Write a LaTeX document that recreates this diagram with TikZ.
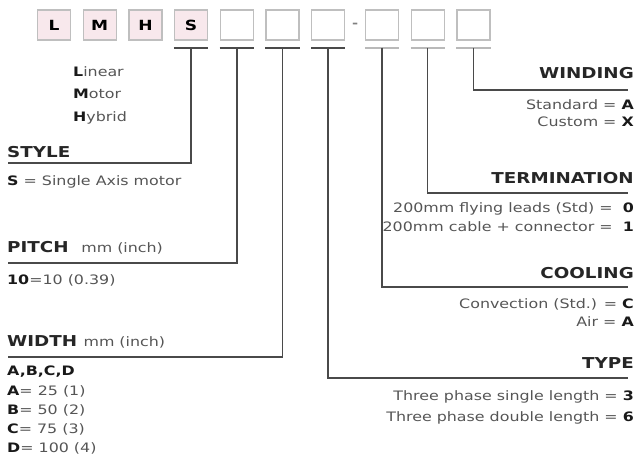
\documentclass[tikz,border=0pt]{standalone}
\usepackage{fontspec}
\setmainfont[FakeStretch=1.22]{DejaVu Sans}
\usetikzlibrary{positioning}
\definecolor{boxpink}{HTML}{F8E8EC}
\definecolor{lnk}{HTML}{4A4A4A}
\definecolor{txtgray}{HTML}{555555}
\newcommand{\B}[1]{{\color{black!90}\bfseries #1}}

\begin{document}
\begin{tikzpicture}[x=1pt, y=-1pt,
	box/.style={draw=gray!50, line width=1.3pt, minimum width=33pt, minimum height=30pt, inner sep=0pt, font=\bfseries\fontsize{14}{14}\selectfont},
	lbox/.style={box, fill=boxpink},
	ul/.style={line width=2.2pt, lnk}, ulg/.style={line width=2.2pt, gray!55},
	conn/.style={line width=1.6pt, lnk},
	hd/.style={inner sep=0pt, font=\bfseries\fontsize{15}{15}\selectfont, text=black!85},
	txt/.style={inner sep=0pt, text=txtgray}]
	\useasboundingbox (0,0) rectangle (635,457);
	% code boxes
	\node[lbox] (L) at (54,25) {L}; \node[lbox] (M) [right=11.4pt of L] {M};
	\node[lbox] (H) [right=11.4pt of M] {H}; \node[lbox] (S) [right=11.4pt of H] {S};
	\node[box] (b5) [right=11.4pt of S] {}; \node[box] (b6) [right=11.4pt of b5] {};
	\node[box] (b7) [right=11.4pt of b6] {};
	\node[inner sep=0pt, text=gray, font=\bfseries\fontsize{12}{12}\selectfont] (dash) [right=6.5pt of b7] {-};
	\node[box] (b8) [right=6.5pt of dash] {}; \node[box] (b9) [right=11.4pt of b8] {};
	\node[box] (b10) [right=11.4pt of b9] {};
	\foreach \b in {S, b5, b6, b7}
		\draw[ul] ([yshift=-7pt]\b.south west) -- ([yshift=-7pt]\b.south east);
	\foreach \b in {b8, b9, b10}
		\draw[ulg] ([yshift=-7pt]\b.south west) -- ([yshift=-7pt]\b.south east);
	\node[txt, anchor=west, align=left, font=\fontsize{13}{22.5}\selectfont] (lmh) at (73,95) {\B{L}inear\\\B{M}otor\\\B{H}ybrid};
	% left side
	\node[hd, anchor=west] (style) at (7,152) {STYLE};
	\node[txt, anchor=west, font=\fontsize{13}{13}\selectfont] (styleS) at (7,182) {\B{S} = Single Axis motor};
	\node[hd, anchor=west] (pitch) at (7,248) {PITCH\ \ {\mdseries\fontsize{13}{13}\selectfont\color{txtgray}mm (inch)}};
	\node[txt, anchor=west, font=\fontsize{13}{13}\selectfont] (pitch10) at (7,280) {\B{10}=10 (0.39)};
	\node[hd, anchor=west] (width) at (7,342) {WIDTH {\mdseries\fontsize{13}{13}\selectfont\color{txtgray}mm (inch)}};
	\node[txt, anchor=west, align=left, font=\fontsize{13}{19.25}\selectfont] (widthL) at (7,410.5)
		{\B{A,B,C,D}\\\B{A}= 25 (1)\\\B{B}= 50 (2)\\\B{C}= 75 (3)\\\B{D}= 100 (4)};
	% right side
	\node[hd, anchor=east] (wind) at (634,73) {WINDING};
	\node[txt, anchor=east, align=right, font=\fontsize{13}{17}\selectfont] (windL) at (634,113.5) {Standard = \B{A}\\Custom = \B{X}};
	\node[hd, anchor=east] (term) at (634,178) {TERMINATION};
	\node[txt, anchor=east, align=right, font=\fontsize{13}{19}\selectfont] (termL) at (634,217.5)
		{200mm flying leads (Std) = \ \B{0}\\200mm cable + connector = \ \B{1}};
	\node[hd, anchor=east] (cool) at (634,273) {COOLING};
	\node[txt, anchor=east, align=right, font=\fontsize{13}{18}\selectfont] (coolL) at (634,312.5) {Convection (Std.) = \B{C}\\Air = \B{A}};
	\node[hd, anchor=east] (type) at (634,363) {TYPE};
	\node[txt, anchor=east, align=right, font=\fontsize{13}{21}\selectfont] (typeL) at (634,407.5)
		{Three phase single length = \B{3}\\Three phase double length = \B{6}};
	% connectors
	\coordinate (styleEnd) at (8,163); \coordinate (pitchEnd) at (8,263); \coordinate (widthEnd) at (8,357);
	\coordinate (typeEnd) at (628,378); \coordinate (coolEnd) at (628,287);
	\coordinate (termEnd) at (628,193); \coordinate (windEnd) at (628,90);
	\draw[conn] ([yshift=-7pt]S.south) |- (styleEnd);
	\draw[conn] ([yshift=-7pt]b5.south) |- (pitchEnd);
	\draw[conn] ([yshift=-7pt]b6.south) |- (widthEnd);
	\draw[conn] ([yshift=-7pt]b7.south) |- (typeEnd);
	\draw[conn] ([yshift=-7pt]b8.south) |- (coolEnd);
	\draw[conn] ([yshift=-7pt]b9.south) |- (termEnd);
	\draw[conn] ([yshift=-7pt]b10.south) |- (windEnd);
\end{tikzpicture}
\end{document}
